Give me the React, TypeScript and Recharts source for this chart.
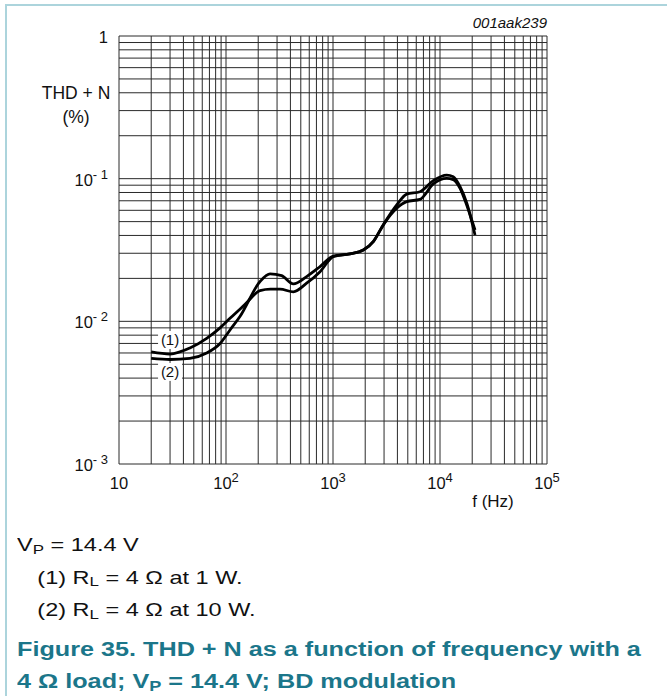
import React from 'react'
import { LineChart, Line, XAxis, YAxis, ReferenceLine, ReferenceDot } from 'recharts'

// THD + N (%) vs frequency
const curve1 = [
  { f: 20, thd: 0.0061 }, { f: 30, thd: 0.0059 }, { f: 46, thd: 0.0065 }, { f: 66, thd: 0.0076 },
  { f: 88, thd: 0.009 }, { f: 109, thd: 0.0105 }, { f: 150, thd: 0.0131 }, { f: 208, thd: 0.0164 },
  { f: 260, thd: 0.0168 }, { f: 320, thd: 0.0168 }, { f: 426, thd: 0.0161 }, { f: 567, thd: 0.0185 },
  { f: 757, thd: 0.0223 }, { f: 1007, thd: 0.0284 }, { f: 1440, thd: 0.0297 }, { f: 1920, thd: 0.0316 },
  { f: 2380, thd: 0.0362 }, { f: 2950, thd: 0.0474 }, { f: 3940, thd: 0.062 }, { f: 4880, thd: 0.069 },
  { f: 6500, thd: 0.0716 }, { f: 8650, thd: 0.0918 }, { f: 11560, thd: 0.1006 }, { f: 13300, thd: 0.0985 },
  { f: 15400, thd: 0.0855 }, { f: 17800, thd: 0.065 }, { f: 21250, thd: 0.0437 },
]

const curve2 = [
  { f: 20, thd: 0.0055 }, { f: 30, thd: 0.0054 }, { f: 46, thd: 0.0055 }, { f: 66, thd: 0.006 },
  { f: 88, thd: 0.007 }, { f: 109, thd: 0.0087 }, { f: 135, thd: 0.0108 }, { f: 208, thd: 0.019 },
  { f: 258, thd: 0.0215 }, { f: 331, thd: 0.0209 }, { f: 426, thd: 0.0183 }, { f: 567, thd: 0.0206 },
  { f: 757, thd: 0.0242 }, { f: 1007, thd: 0.0287 }, { f: 1440, thd: 0.0297 }, { f: 1920, thd: 0.0316 },
  { f: 2380, thd: 0.0362 }, { f: 2950, thd: 0.0474 }, { f: 3940, thd: 0.0654 }, { f: 4880, thd: 0.078 },
  { f: 6500, thd: 0.081 }, { f: 8650, thd: 0.0969 }, { f: 11560, thd: 0.106 }, { f: 13300, thd: 0.1033 },
  { f: 15400, thd: 0.0879 }, { f: 17800, thd: 0.0673 }, { f: 21250, thd: 0.0403 },
]

const xTicks = [10, 100, 1000, 10000, 100000]
const yTicks = [0.001, 0.01, 0.1, 1]
const xTickLabels = ['10', '10|2', '10|3', '10|4', '10|5']
const yTickLabels = ['10|- 3', '10|- 2', '10|- 1', '1']

const curveLabels = [
  { f: 30, thd: 0.0074, text: '(1)' },
  { f: 30, thd: 0.00442, text: '(2)' },
]

// 1..9 within every decade
const xGrid = xTicks.slice(0, -1).flatMap((d) => [1, 2, 3, 4, 5, 6, 7, 8, 9].map((m) => d * m)).concat([100000])
const yGrid = yTicks.slice(0, -1).flatMap((d) => [1, 2, 3, 4, 5, 6, 7, 8, 9].map((m) => d * m)).concat([1])

const FONT = '"Liberation Sans", Arial, sans-serif'
const TEAL = '#1b768a'
const GRID = '#2a2a2a'

function PowerText({ label, x, y, anchor }: { label: string; x: number; y: number; anchor: 'end' | 'middle' }) {
  const [base, exp] = label.split('|')
  return (
    <text x={x} y={y} textAnchor={anchor} fontFamily={FONT} fontSize={16.5} fill="#111">
      <tspan>{base}</tspan>
      {exp && <tspan dy={-7} fontSize={13}>{exp}</tspan>}
    </text>
  )
}

function XTick(props: any) {
  const i = xTicks.indexOf(props.payload.value)
  return <PowerText label={xTickLabels[i]} x={props.x} y={props.y + 25} anchor="middle" />
}

function YTick(props: any) {
  const i = yTicks.indexOf(props.payload.value)
  return <PowerText label={yTickLabels[i]} x={props.x} y={props.y + 7} anchor="end" />
}

function CurveTag(props: any) {
  const { cx, cy, text } = props
  return (
    <g>
      <rect x={cx - 12} y={cy - 9} width={24} height={18} fill="#fff" />
      <text x={cx} y={cy + 5} textAnchor="middle" fontFamily={FONT} fontSize={15} fill="#111">{text}</text>
    </g>
  )
}

const Sub = ({ children }: { children: React.ReactNode }) => (
  <span style={{ fontSize: '0.72em', position: 'relative', top: '0.22em', lineHeight: 0 }}>{children}</span>
)

export default function App() {
  return (
    <div style={{ position: 'absolute', left: 0, top: 0, width: 667, height: 696, background: '#fff', fontFamily: FONT, overflow: 'hidden' }}>
      <div style={{ position: 'absolute', left: 5, top: 4, right: 0, bottom: 0, borderTop: '2px solid #acd4dc', borderLeft: '2px solid #acd4dc' }} />

      <LineChart width={667} height={520} margin={{ top: 36, right: 120, left: 59, bottom: 26 }} style={{ position: 'absolute', left: 0, top: 0 }}>
        <XAxis
          dataKey="f"
          type="number"
          scale="log"
          domain={[10, 100000]}
          ticks={xTicks}
          allowDataOverflow
          axisLine={false}
          tickLine={false}
          tickSize={0}
          tickMargin={0}
          height={30}
          tick={<XTick />}
        />
        <YAxis
          dataKey="thd"
          type="number"
          scale="log"
          domain={[0.001, 1]}
          ticks={yTicks}
          allowDataOverflow
          axisLine={false}
          tickLine={false}
          tickSize={0}
          tickMargin={11}
          width={60}
          tick={<YTick />}
        />
        {xGrid.map((v) => (
          <ReferenceLine key={'x' + v} x={v} stroke={GRID} strokeWidth={1} />
        ))}
        {yGrid.map((v) => (
          <ReferenceLine key={'y' + v} y={v} stroke={GRID} strokeWidth={1} />
        ))}
        <Line data={curve1} dataKey="thd" type="monotone" stroke="#000" strokeWidth={2.8} dot={false} isAnimationActive={false} />
        <Line data={curve2} dataKey="thd" type="monotone" stroke="#000" strokeWidth={2.8} dot={false} isAnimationActive={false} />
        {curveLabels.map((c) => (
          <ReferenceDot key={c.text} x={c.f} y={c.thd} ifOverflow="visible" shape={(p: any) => <CurveTag {...p} text={c.text} />} />
        ))}
      </LineChart>

      <div style={{ position: 'absolute', left: 26, top: 81, width: 100, textAlign: 'center', fontSize: 17.5, lineHeight: '24px', color: '#111' }}>
        THD + N<br />(%)
      </div>
      <div style={{ position: 'absolute', right: 120, top: 14, fontSize: 15, fontStyle: 'italic', color: '#111' }}>001aak239</div>
      <div style={{ position: 'absolute', left: 443, top: 492, width: 100, textAlign: 'center', fontSize: 17, color: '#111' }}>f (Hz)</div>

      <div style={{ position: 'absolute', left: 17, top: 529, fontSize: 18.5, lineHeight: '32.5px', color: '#111', whiteSpace: 'nowrap', transform: 'scaleX(1.27)', transformOrigin: 'left top' }}>
        <div>V<Sub>P</Sub> = 14.4 V</div>
        <div style={{ paddingLeft: 16 }}>(1) R<Sub>L</Sub> = 4 Ω at 1 W.</div>
        <div style={{ paddingLeft: 16 }}>(2) R<Sub>L</Sub> = 4 Ω at 10 W.</div>
      </div>
      <div style={{ position: 'absolute', left: 17, top: 633, fontSize: 20, lineHeight: '32px', fontWeight: 'bold', color: TEAL, whiteSpace: 'nowrap', transform: 'scaleX(1.26)', transformOrigin: 'left top' }}>
        <div>Figure 35. THD + N as a function of frequency with a</div>
        <div>4 Ω load; V<Sub>P</Sub> = 14.4 V; BD modulation</div>
      </div>
    </div>
  )
}
